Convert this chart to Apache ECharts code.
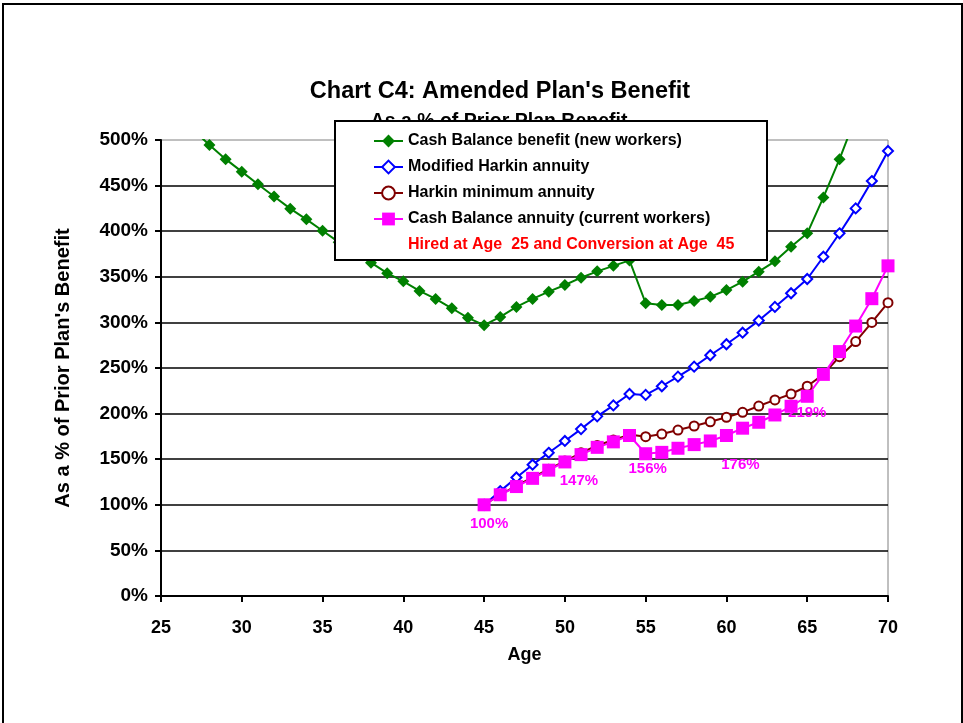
<!DOCTYPE html>
<html>
<head>
<meta charset="utf-8">
<script src="https://cdn.jsdelivr.net/npm/echarts@6/dist/echarts.min.js"></script>
<style>html,body{margin:0;padding:0;background:#fff;}#chart{width:963px;height:723px;}</style>
</head>
<body>
<div id="chart"></div>
<script>
// ---- Data ----
const seriesNames = [
  'Cash Balance benefit (new workers)',
  'Modified Harkin annuity',
  'Harkin minimum annuity',
  'Cash Balance annuity (current workers)'
];
const greenAges = [27,28,29,30,31,32,33,34,35,36,37,38,39,40,41,42,43,44,45,46,47,48,49,50,51,52,53,54,55,56,57,58,59,60,61,62,63,64,65,66,67,68];
const greenValues = [511,494.5,479,465.3,451.4,438,424.7,413,400.5,388,376,365.5,354,345,334.5,325.7,315.5,305,297,306,317,325.7,333.7,341,349,356,362,368,321,319,319,323.5,328,335.5,344.7,355.6,367,383,397.7,437,479,525];
const laterAges = [45,46,47,48,49,50,51,52,53,54,55,56,57,58,59,60,61,62,63,64,65,66,67,68,69,70];
const blueValues = [100,115,130,144,157,170,183,197,209,221.5,220.5,230,240.5,251.5,264,276,288.7,302,317,332,347.6,372,397.7,425,455,488];
const maroonValues = [100,111,121,130,139,148,157,165,171,177,174.7,177.6,182,186.4,191,196,201.4,208.3,215,221.5,230,243,262.4,279,300,321.6];
const pinkValues = [100,111,120,129,138,147,155,163,169,176,156,157.5,162,166,170,176,184,190.5,198.5,208,219,243,268,296,326,362];
const pinkLabelAges = [45,50,55,60,65];
const xTicks = {min:25, max:70, interval:5};
const yTicks = {min:0, max:500, interval:50};
const legendNote = 'Hired at Age  25 and Conversion at Age  45';

// ---- Chart ----
const FONT = '"Liberation Sans", Arial, sans-serif';
const labelOffsets = {45:[5,0], 50:[14,0], 55:[2,-4], 60:[14,10], 65:[0,-2]};
function pairs(ages, vals){ return ages.map((a,i)=>[a, vals[i]]); }

const pinkData = laterAges.map((a,i)=>{
  const item = {value:[a, pinkValues[i]]};
  if (pinkLabelAges.indexOf(a) >= 0) {
    item.label = {show:true, position:'bottom', distance:5, offset:labelOffsets[a],
      formatter: p => Math.round(p.value[1]) + '%',
      color:'#FF00FF', fontWeight:'bold', fontSize:15, fontFamily:FONT};
  }
  return item;
});

const chart = echarts.init(document.getElementById('chart'), null, {renderer:'canvas'});
chart.setOption({
  animation:false,
  backgroundColor:'#fff',
  textStyle:{fontFamily:FONT},
  title:[
    {text:"Chart C4: Amended Plan's Benefit", left:495, top:75, textAlign:'center', z:5,
     textStyle:{fontSize:23.5, fontWeight:'bold', color:'#000', fontFamily:FONT}},
    {text:'As a % of Prior Plan Benefit', left:494, top:107, textAlign:'center', z:5,
     textStyle:{fontSize:19.5, fontWeight:'bold', color:'#000', fontFamily:FONT}}
  ],
  grid:{left:161, right:75, top:140, bottom:127, show:true, borderColor:'#808080', borderWidth:1, backgroundColor:'transparent'},
  legend:{
    data:seriesNames, orient:'vertical', left:368, top:128, itemWidth:29, itemHeight:16, itemGap:10, z:20,
    textStyle:{fontSize:16, fontWeight:'bold', color:'#000', fontFamily:FONT}
  },
  xAxis:{
    type:'value', min:xTicks.min, max:xTicks.max, interval:xTicks.interval,
    name:'Age', nameLocation:'middle', nameGap:50,
    nameTextStyle:{fontSize:18, fontWeight:'bold', color:'#000', fontFamily:FONT},
    axisLine:{show:true, onZero:false, lineStyle:{color:'#000', width:2}},
    axisTick:{show:true, inside:false, length:6, lineStyle:{color:'#000', width:2}},
    axisLabel:{margin:23, fontSize:18, fontWeight:'bold', color:'#000', fontFamily:FONT},
    splitLine:{show:false}
  },
  yAxis:{
    type:'value', min:yTicks.min, max:yTicks.max, interval:yTicks.interval,
    name:"As a % of Prior Plan's Benefit", nameLocation:'middle', nameGap:88, nameRotate:90,
    nameTextStyle:{fontSize:20, fontWeight:'bold', color:'#000', fontFamily:FONT},
    axisLine:{show:true, lineStyle:{color:'#000', width:2}},
    axisTick:{show:true, inside:false, length:6, lineStyle:{color:'#000', width:2}},
    axisLabel:{margin:13, fontSize:19, fontWeight:'bold', color:'#000', fontFamily:FONT, formatter:'{value}%'},
    splitLine:{show:true, showMaxLine:false, lineStyle:{color:'#000', width:1.5}}
  },
  series:[
    {name:seriesNames[0], type:'line', data:pairs(greenAges, greenValues), clip:true,
     symbol:'diamond', symbolSize:12, lineStyle:{color:'#008000', width:2},
     itemStyle:{color:'#008000'}},
    {name:seriesNames[1], type:'line', data:pairs(laterAges, blueValues), clip:true,
     symbol:'emptyDiamond', symbolSize:10, lineStyle:{color:'#0000FF', width:2},
     itemStyle:{color:'#0000FF', borderWidth:1.5}},
    {name:seriesNames[2], type:'line', data:pairs(laterAges, maroonValues), clip:true,
     symbol:'emptyCircle', symbolSize:9, lineStyle:{color:'#800000', width:2},
     itemStyle:{color:'#800000', borderWidth:1.5}},
    {name:seriesNames[3], type:'line', data:pinkData, clip:true,
     symbol:'rect', symbolSize:13, lineStyle:{color:'#FF00FF', width:2},
     itemStyle:{color:'#FF00FF'}}
  ],
  graphic:[
    {type:'rect', z:15, shape:{x:335, y:121, width:432, height:139},
     style:{fill:'#fff', stroke:'#000', lineWidth:2}},
    {type:'text', z:20, left:408, top:237,
     style:{text:legendNote, fill:'#FF0000', font:'bold 16px ' + FONT}},
    {type:'rect', z:0, silent:true, shape:{x:3, y:4, width:959, height:740},
     style:{fill:'none', stroke:'#000', lineWidth:2}}
  ]
});
</script>
</body>
</html>
